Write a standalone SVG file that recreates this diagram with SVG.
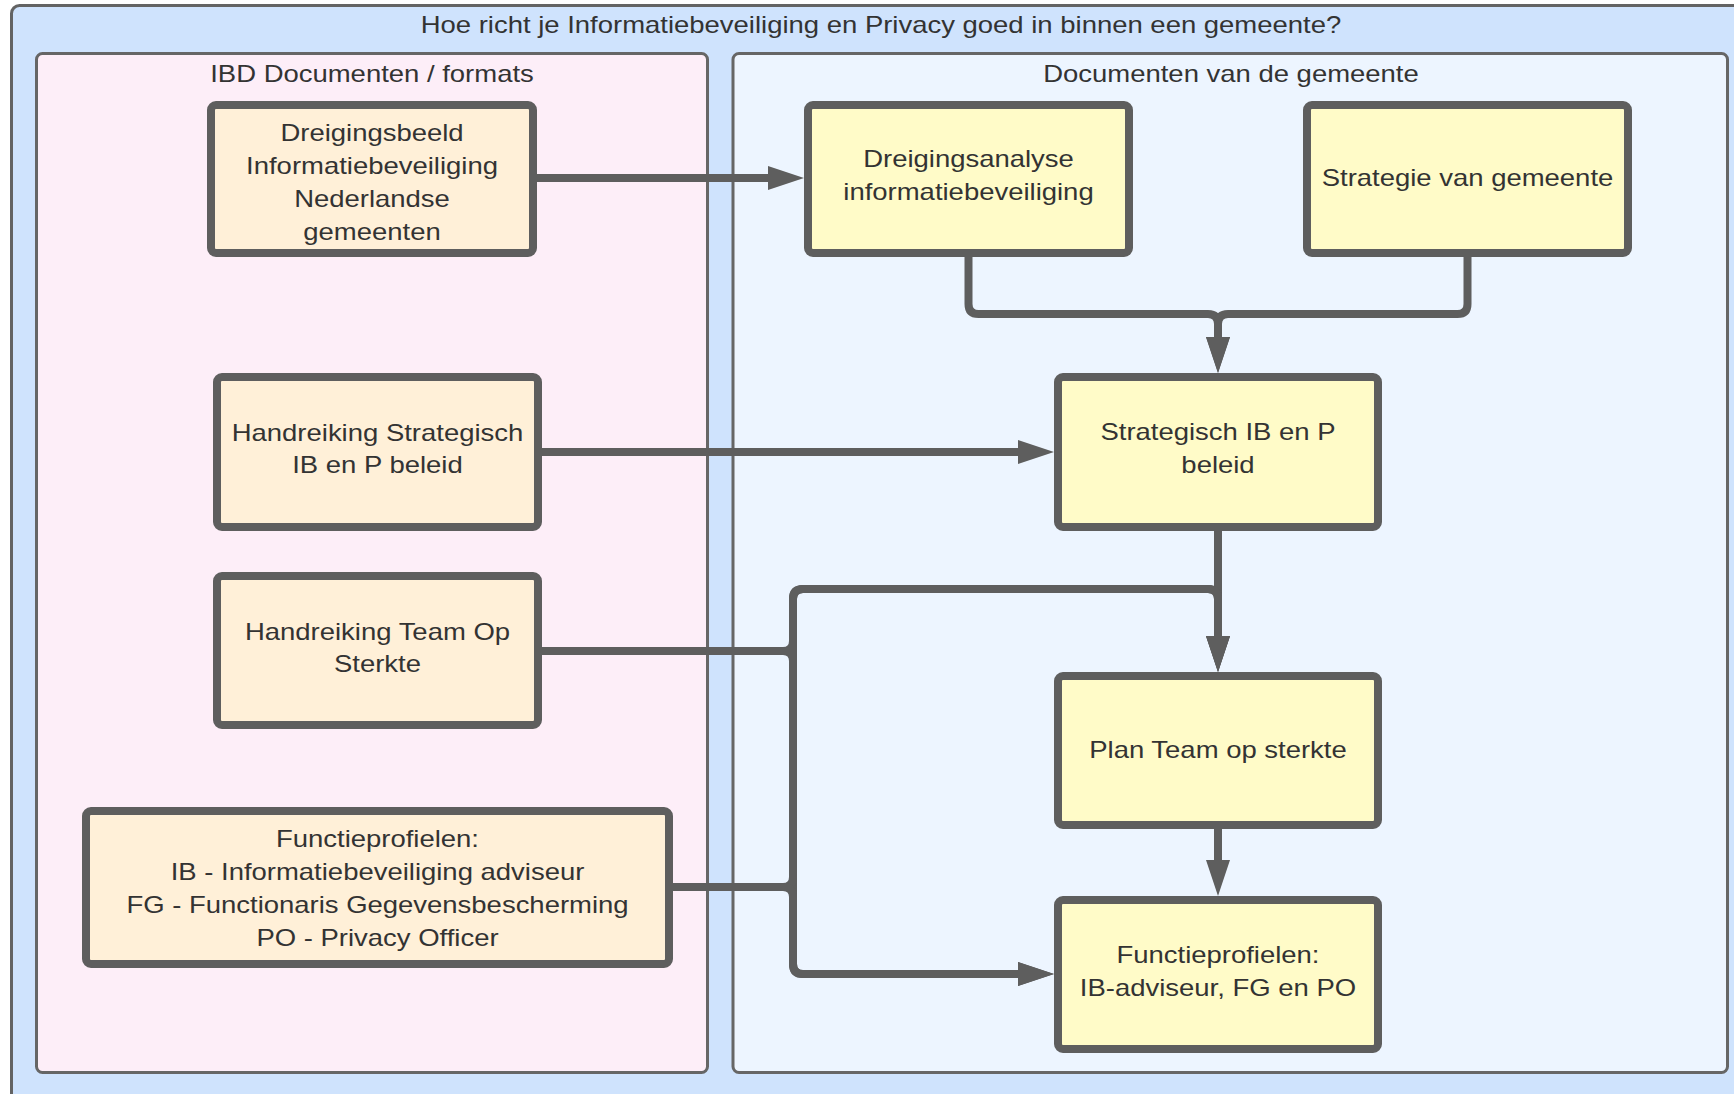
<svg xmlns="http://www.w3.org/2000/svg" width="1734" height="1094" viewBox="0 0 1734 1094">
<defs>
<style>
.frame{fill:#cfe3fd;stroke:#636363;stroke-width:3}
.laneL{fill:#fdeef8;stroke:#666;stroke-width:3}
.laneR{fill:#edf5ff;stroke:#666;stroke-width:3}
.peach{fill:#fff0d8;stroke:#5e5e5e;stroke-width:8}
.yellow{fill:#fffbc8;stroke:#5e5e5e;stroke-width:8}
text{font-family:"Liberation Sans",Arial,sans-serif;font-size:24px;fill:#333;text-anchor:middle}
.conn path{fill:none;stroke:#5e5e5e;stroke-width:8;marker-end:url(#arr)}
</style>
<marker id="arr" markerUnits="userSpaceOnUse" markerWidth="37" markerHeight="25" refX="0" refY="12" orient="auto">
<path d="M0,0 L36,12 L0,24 Z" fill="#5e5e5e"/>
</marker>
</defs>
<g id="container">
<rect class="frame" x="11.5" y="5.5" width="1760" height="1100" rx="8"/>
<text transform="scale(1.145 1)" x="769.4" y="33">Hoe richt je Informatiebeveiliging en Privacy goed in binnen een gemeente?</text>
</g>
<g id="lane-ibd">
<rect class="laneL" x="36.5" y="53.5" width="671" height="1019" rx="6"/>
<text transform="scale(1.145 1)" x="324.9" y="82">IBD Documenten / formats</text>
</g>
<g id="lane-gemeente">
<rect class="laneR" x="733" y="53.5" width="994.5" height="1019" rx="6"/>
<text transform="scale(1.145 1)" x="1075.1" y="82">Documenten van de gemeente</text>
</g>
<g class="conn" id="connectors">
<path d="M537 178 H768"/>
<path d="M968.5 257 V304 Q968.5 314 978.5 314 H1208 Q1218 314 1218 324 V337"/>
<path d="M1467.5 257 V304 Q1467.5 314 1457.5 314 H1228 Q1218 314 1218 324 V337"/>
<path d="M542 452 H1018"/>
<path d="M1218 531 V636"/>
<path d="M542 651 H783 Q793 651 793 641 V599 Q793 589 803 589 H1208 Q1218 589 1218 599 V636"/>
<path d="M542 651 H783 Q793 651 793 661 V964 Q793 974 803 974 H1018"/>
<path d="M673 887 H783 Q793 887 793 877 V599 Q793 589 803 589 H1208 Q1218 589 1218 599 V636"/>
<path d="M673 887 H783 Q793 887 793 897 V964 Q793 974 803 974 H1018"/>
<path d="M1218 829 V860"/>
</g>
<g id="dreigingsbeeld">
<rect class="peach" x="211" y="105" width="322" height="148" rx="5"/>
<text transform="scale(1.145 1)"><tspan x="324.9" y="141">Dreigingsbeeld</tspan><tspan x="324.9" y="174">Informatiebeveiliging</tspan><tspan x="324.9" y="207">Nederlandse</tspan><tspan x="324.9" y="240">gemeenten</tspan></text>
</g>
<g id="dreigingsanalyse">
<rect class="yellow" x="808" y="105" width="321" height="148" rx="5"/>
<text transform="scale(1.145 1)"><tspan x="845.85" y="167">Dreigingsanalyse</tspan><tspan x="845.85" y="200">informatiebeveiliging</tspan></text>
</g>
<g id="strategie">
<rect class="yellow" x="1307" y="105" width="321" height="148" rx="5"/>
<text transform="scale(1.145 1)" x="1281.66" y="186">Strategie van gemeente</text>
</g>
<g id="strategisch-beleid">
<rect class="yellow" x="1058" y="377" width="320" height="150" rx="5"/>
<text transform="scale(1.145 1)"><tspan x="1063.76" y="440">Strategisch IB en P</tspan><tspan x="1063.76" y="473">beleid</tspan></text>
</g>
<g id="plan-team">
<rect class="yellow" x="1058" y="676" width="320" height="149" rx="5"/>
<text transform="scale(1.145 1)" x="1063.76" y="758">Plan Team op sterkte</text>
</g>
<g id="functieprofielen-gemeente">
<rect class="yellow" x="1058" y="900" width="320" height="149" rx="5"/>
<text transform="scale(1.145 1)"><tspan x="1063.76" y="963">Functieprofielen:</tspan><tspan x="1063.76" y="996">IB-adviseur, FG en PO</tspan></text>
</g>
<g id="handreiking-strategisch">
<rect class="peach" x="217" y="377" width="321" height="150" rx="5"/>
<text transform="scale(1.145 1)"><tspan x="329.7" y="441">Handreiking Strategisch</tspan><tspan x="329.7" y="473">IB en P beleid</tspan></text>
</g>
<g id="handreiking-team">
<rect class="peach" x="217" y="576" width="321" height="149" rx="5"/>
<text transform="scale(1.145 1)"><tspan x="329.7" y="640">Handreiking Team Op</tspan><tspan x="329.7" y="672">Sterkte</tspan></text>
</g>
<g id="functieprofielen-ibd">
<rect class="peach" x="86" y="811" width="583" height="153" rx="5"/>
<text transform="scale(1.145 1)"><tspan x="329.7" y="847">Functieprofielen:</tspan><tspan x="329.7" y="880">IB - Informatiebeveiliging adviseur</tspan><tspan x="329.7" y="913">FG - Functionaris Gegevensbescherming</tspan><tspan x="329.7" y="946">PO - Privacy Officer</tspan></text>
</g>
</svg>
